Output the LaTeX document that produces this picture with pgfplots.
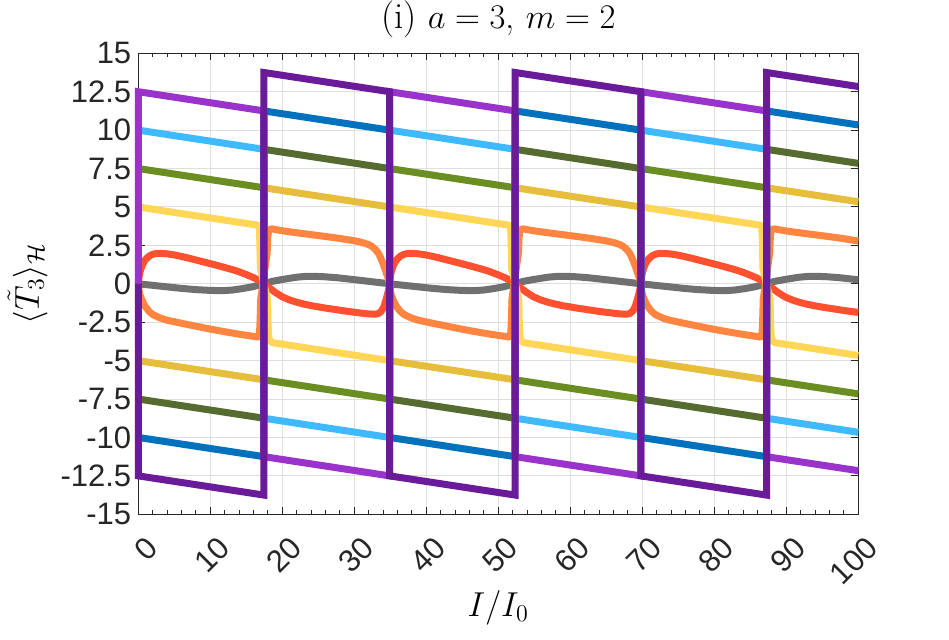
\documentclass[border=0pt]{standalone}
\usepackage{fontspec}
\usepackage{pgfplots}
\pgfplotsset{compat=1.18}
\newfontfamily\tickfont{Liberation Sans}
\definecolor{cLP}{RGB}{153,51,204}
\definecolor{cDP}{RGB}{106,27,154}
\definecolor{cLB}{RGB}{64,186,255}
\definecolor{cDB}{RGB}{0,114,189}
\definecolor{cG}{RGB}{107,142,35}
\definecolor{cDG}{RGB}{85,107,47}
\definecolor{cY}{RGB}{255,214,85}
\definecolor{cDY}{RGB}{230,190,60}
\definecolor{cR}{RGB}{255,80,48}
\definecolor{cO}{RGB}{255,133,64}
\definecolor{cGr}{RGB}{112,112,112}
\definecolor{axc}{RGB}{38,38,38}
\definecolor{gridc}{RGB}{223,223,223}
\begin{document}
\begin{tikzpicture}
\useasboundingbox (-69.15pt,-62.85pt) rectangle (405.35pt,257.15pt);
\begin{axis}[
  at={(0,0)}, anchor=south west,
  scale only axis, width=360pt, height=230.5pt,
  xmin=0, xmax=100, ymin=-15, ymax=15,
  clip=false,
  xtick={0,10,20,30,40,50,60,70,80,90,100},
  xticklabels={0,10,20,30,40,50,60,70,80,90,100},
  minor x tick num=4,
  ytick={-15,-12.5,-10,-7.5,-5,-2.5,0,2.5,5,7.5,10,12.5,15},
  yticklabels={-15,-12.5,-10,-7.5,-5,-2.5,0,2.5,5,7.5,10,12.5,15},
  tick align=inside,
  major tick length=3.5pt, minor tick length=2pt,
  xmajorgrids, ymajorgrids,
  major grid style={gridc, line width=0.5pt},
  axis line style={axc, line width=0.5pt},
  tick style={axc, line width=0.5pt},
  ticklabel style={font=\fontsize{15.5}{18}\tickfont, text=axc},
  xticklabel style={xshift=7pt, yshift=-14pt, rotate=45, anchor=east, inner sep=0pt},
  xlabel={$I/I_0$},
  xlabel style={font=\fontsize{17}{20}\selectfont, at={(axis description cs:0.5,-0.2221)}, anchor=base, inner sep=0pt},
  ylabel={$\langle\tilde{T}_3\rangle_{\mathcal{H}}$},
  ylabel style={font=\fontsize{17}{20}\selectfont, at={(axis description cs:-0.154,0.5)}, anchor=center, inner sep=0pt},
  every axis plot/.append style={line width=3.5pt, line join=round},
]
% gray
\addplot[cGr] coordinates {
(0,0) (1,-0.05) (2,-0.1) (4,-0.2) (6,-0.3) (8,-0.38) (10,-0.43) (11.5,-0.45) (13,-0.41) (14.5,-0.31) (15.9,-0.19) (17,-0.05) (17.45,0) (18.5,0.15) (20,0.28) (22,0.43) (23.5,0.49) (25.5,0.47) (27.5,0.4) (30,0.27) (32,0.16) (34,0.05) (34.9,0)
(35.9,-0.05) (36.9,-0.1) (38.9,-0.2) (40.9,-0.3) (42.9,-0.38) (44.9,-0.43) (46.4,-0.45) (47.9,-0.41) (49.4,-0.31) (50.8,-0.19) (51.9,-0.05) (52.35,0) (53.4,0.15) (54.9,0.28) (56.9,0.43) (58.4,0.49) (60.4,0.47) (62.4,0.4) (64.9,0.27) (66.9,0.16) (68.9,0.05) (69.8,0)
(70.8,-0.05) (71.8,-0.1) (73.8,-0.2) (75.8,-0.3) (77.8,-0.38) (79.8,-0.43) (81.3,-0.45) (82.8,-0.41) (84.3,-0.31) (85.7,-0.19) (86.8,-0.05) (87.25,0) (88.3,0.15) (89.8,0.28) (91.8,0.43) (93.3,0.49) (95.3,0.47) (97.3,0.4) (99.8,0.27) (100,0.26)
};
% red
\addplot[cR] coordinates {
(0,0) (0.1,0.45) (0.25,0.8) (0.5,1.15) (0.75,1.4) (1,1.58) (1.5,1.8) (2,1.92) (2.5,1.97) (3,1.98) (4,1.95) (5,1.88) (6,1.78) (7,1.67) (8,1.55) (9,1.43) (10,1.31) (11,1.19) (12,1.06) (13,0.93) (14,0.78) (15,0.6) (16,0.4) (16.75,0.23) (17.45,0) (18.1,-0.23) (19,-0.55) (20,-0.85) (21,-1.05) (22,-1.2) (23,-1.32) (24,-1.42) (25,-1.5) (26,-1.58) (27,-1.65) (28,-1.72) (29,-1.79) (30,-1.85) (31,-1.91) (32,-1.96) (32.9,-1.98) (33.4,-1.93) (33.8,-1.75) (34.1,-1.5) (34.4,-1.05) (34.65,-0.6) (34.8,-0.3) (34.9,0)
(35,0.45) (35.15,0.8) (35.4,1.15) (35.65,1.4) (35.9,1.58) (36.4,1.8) (36.9,1.92) (37.4,1.97) (37.9,1.98) (38.9,1.95) (39.9,1.88) (40.9,1.78) (41.9,1.67) (42.9,1.55) (43.9,1.43) (44.9,1.31) (45.9,1.19) (46.9,1.06) (47.9,0.93) (48.9,0.78) (49.9,0.6) (50.9,0.4) (51.65,0.23) (52.35,0) (53,-0.23) (53.9,-0.55) (54.9,-0.85) (55.9,-1.05) (56.9,-1.2) (57.9,-1.32) (58.9,-1.42) (59.9,-1.5) (60.9,-1.58) (61.9,-1.65) (62.9,-1.72) (63.9,-1.79) (64.9,-1.85) (65.9,-1.91) (66.9,-1.96) (67.8,-1.98) (68.3,-1.93) (68.7,-1.75) (69,-1.5) (69.3,-1.05) (69.55,-0.6) (69.7,-0.3) (69.8,0)
(69.9,0.45) (70.05,0.8) (70.3,1.15) (70.55,1.4) (70.8,1.58) (71.3,1.8) (71.8,1.92) (72.3,1.97) (72.8,1.98) (73.8,1.95) (74.8,1.88) (75.8,1.78) (76.8,1.67) (77.8,1.55) (78.8,1.43) (79.8,1.31) (80.8,1.19) (81.8,1.06) (82.8,0.93) (83.8,0.78) (84.8,0.6) (85.8,0.4) (86.55,0.23) (87.25,0) (87.9,-0.23) (88.8,-0.55) (89.8,-0.85) (90.8,-1.05) (91.8,-1.2) (92.8,-1.32) (93.8,-1.42) (94.8,-1.5) (95.8,-1.58) (96.8,-1.65) (97.8,-1.72) (98.8,-1.79) (99.8,-1.85) (100,-1.86)
};
% orange
\addplot[cO] coordinates {
(0,0) (0.1,-0.45) (0.25,-0.75) (0.5,-1.05) (0.75,-1.3) (1,-1.5) (1.5,-1.8) (2,-2.0) (3,-2.22) (4,-2.37) (6,-2.57) (8,-2.76) (10,-2.95) (12,-3.12) (14,-3.28) (16,-3.42) (16.6,-3.47) (16.75,-3.42) (16.85,-3.1) (16.92,-2.3) (17,-1.0) (17.45,0.5) (17.9,2.0) (17.98,3.0) (18.1,3.45) (18.3,3.56) (18.6,3.57) (20,3.45) (22,3.32) (24,3.2) (26,3.08) (28,2.95) (30,2.8) (31,2.7) (32,2.55) (32.5,2.42) (33,2.2) (33.4,1.95) (33.7,1.65) (34,1.3) (34.3,0.9) (34.55,0.55) (34.75,0.28) (34.9,0)
(35,-0.45) (35.15,-0.75) (35.4,-1.05) (35.65,-1.3) (35.9,-1.5) (36.4,-1.8) (36.9,-2.0) (37.9,-2.22) (38.9,-2.37) (40.9,-2.57) (42.9,-2.76) (44.9,-2.95) (46.9,-3.12) (48.9,-3.28) (50.9,-3.42) (51.5,-3.47) (51.65,-3.42) (51.75,-3.1) (51.82,-2.3) (51.9,-1.0) (52.35,0.5) (52.8,2.0) (52.88,3.0) (53,3.45) (53.2,3.56) (53.5,3.57) (54.9,3.45) (56.9,3.32) (58.9,3.2) (60.9,3.08) (62.9,2.95) (64.9,2.8) (65.9,2.7) (66.9,2.55) (67.4,2.42) (67.9,2.2) (68.3,1.95) (68.6,1.65) (68.9,1.3) (69.2,0.9) (69.45,0.55) (69.65,0.28) (69.8,0)
(69.9,-0.45) (70.05,-0.75) (70.3,-1.05) (70.55,-1.3) (70.8,-1.5) (71.3,-1.8) (71.8,-2.0) (72.8,-2.22) (73.8,-2.37) (75.8,-2.57) (77.8,-2.76) (79.8,-2.95) (81.8,-3.12) (83.8,-3.28) (85.8,-3.42) (86.4,-3.47) (86.55,-3.42) (86.65,-3.1) (86.72,-2.3) (86.8,-1.0) (87.25,0.5) (87.7,2.0) (87.78,3.0) (87.9,3.45) (88.1,3.56) (88.4,3.57) (89.8,3.45) (91.8,3.32) (93.8,3.2) (95.8,3.08) (97.8,2.95) (99.8,2.8) (100,2.79)
};
% yellow
\addplot[cY] coordinates {
(0,5) (16.5,3.82) (16.7,3.78) (16.8,3.6) (16.88,2.8) (16.95,1) (17.45,0) (17.95,-1) (18.02,-2.6) (18.1,-3.35) (18.25,-3.7) (18.6,-3.83) (34.9,-5)
(34.9,5) (51.4,3.82) (51.6,3.78) (51.7,3.6) (51.78,2.8) (51.85,1) (52.35,0) (52.85,-1) (52.92,-2.6) (53,-3.35) (53.15,-3.7) (53.5,-3.83) (69.8,-5)
(69.8,5) (86.3,3.82) (86.5,3.78) (86.6,3.6) (86.68,2.8) (86.75,1) (87.25,0) (87.75,-1) (87.82,-2.6) (87.9,-3.35) (88.05,-3.7) (88.4,-3.83) (100,-4.663)
};
% dark yellow
\addplot[cDY] coordinates {
(0,-5) (17.45,-6.25) (17.45,6.25) (34.9,5) (34.9,-5) (52.35,-6.25) (52.35,6.25) (69.8,5) (69.8,-5) (87.25,-6.25) (87.25,6.25) (100,5.337)
};
% green
\addplot[cG] coordinates {
(0,7.5) (17.45,6.25) (17.45,-6.25) (34.9,-7.5) (34.9,7.5) (52.35,6.25) (52.35,-6.25) (69.8,-7.5) (69.8,7.5) (87.25,6.25) (87.25,-6.25) (100,-7.163)
};
% dark green
\addplot[cDG] coordinates {
(0,-7.5) (17.45,-8.75) (17.45,8.75) (34.9,7.5) (34.9,-7.5) (52.35,-8.75) (52.35,8.75) (69.8,7.5) (69.8,-7.5) (87.25,-8.75) (87.25,8.75) (100,7.837)
};
% light blue
\addplot[cLB] coordinates {
(0,10) (17.45,8.75) (17.45,-8.75) (34.9,-10) (34.9,10) (52.35,8.75) (52.35,-8.75) (69.8,-10) (69.8,10) (87.25,8.75) (87.25,-8.75) (100,-9.663)
};
% dark blue
\addplot[cDB] coordinates {
(0,-10) (17.45,-11.25) (17.45,11.25) (34.9,10) (34.9,-10) (52.35,-11.25) (52.35,11.25) (69.8,10) (69.8,-10) (87.25,-11.25) (87.25,11.25) (100,10.337)
};
% light purple
\addplot[cLP, line join=miter] coordinates {
(0,0) (0,12.5) (17.45,11.25) (17.45,-11.25) (34.9,-12.5) (34.9,12.5) (52.35,11.25) (52.35,-11.25) (69.8,-12.5) (69.8,12.5) (87.25,11.25) (87.25,-11.25) (100,-12.163)
};
% dark purple
\addplot[cDP, line join=miter] coordinates {
(0,0) (0,-12.5) (17.45,-13.75) (17.45,13.75) (34.9,12.5) (34.9,-12.5) (52.35,-13.75) (52.35,13.75) (69.8,12.5) (69.8,-12.5) (87.25,-13.75) (87.25,13.75) (100,12.837)
};
\node[font=\fontsize{18.5}{22}\selectfont, anchor=base, inner sep=0pt] at (axis description cs:0.5,1.0527) {(i) $a=3$, $m=2$};
\end{axis}
\end{tikzpicture}
\end{document}
